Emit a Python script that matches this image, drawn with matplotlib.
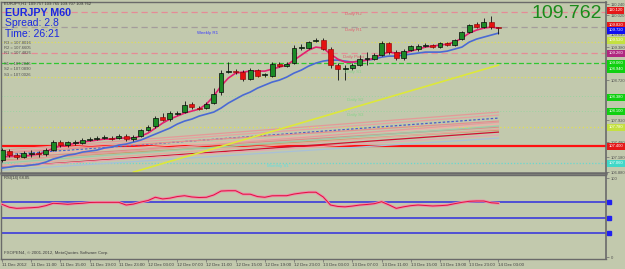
import matplotlib.pyplot as plt
import matplotlib.transforms as mtransforms
import numpy as np

plt.rcParams['font.family'] = ['Liberation Sans', 'DejaVu Sans']

# ---- data (EURJPY, H1) ----
opens = [107.12, 107.30, 107.22, 107.18, 107.24, 107.26, 107.24, 107.32, 107.48, 107.42,
         107.47, 107.46, 107.52, 107.54, 107.56, 107.57, 107.56, 107.60, 107.54, 107.60,
         107.72, 107.80, 107.98, 107.94, 108.05, 108.08, 108.24, 108.16, 108.16, 108.26,
         108.48, 108.88, 108.90, 108.88, 108.74, 108.92, 108.82, 108.80, 109.04, 109.00,
         109.06, 109.36, 109.36, 109.50, 109.52, 109.34, 109.02, 108.95, 108.96, 109.02,
         109.14, 109.14, 109.22, 109.46, 109.28, 109.16, 109.32, 109.34, 109.40, 109.42,
         109.38, 109.46, 109.42, 109.54, 109.68, 109.84, 109.78, 109.88, 109.78]
highs = [107.36, 107.34, 107.26, 107.30, 107.32, 107.30, 107.36, 107.52, 107.52, 107.50,
         107.52, 107.56, 107.58, 107.60, 107.62, 107.60, 107.64, 107.64, 107.62, 107.74,
         107.82, 108.00, 108.06, 108.10, 108.10, 108.30, 108.28, 108.20, 108.28, 108.56,
         108.92, 109.08, 108.94, 108.92, 108.96, 108.94, 108.86, 109.08, 109.08, 109.08,
         109.42, 109.44, 109.50, 109.56, 109.56, 109.38, 109.06, 109.02, 109.06, 109.22,
         109.28, 109.26, 109.50, 109.48, 109.32, 109.34, 109.42, 109.44, 109.46, 109.44,
         109.48, 109.48, 109.54, 109.70, 109.84, 109.88, 109.96, 110.00, 109.78]
lows = [107.08, 107.18, 107.14, 107.16, 107.18, 107.18, 107.20, 107.30, 107.38, 107.38,
        107.42, 107.44, 107.50, 107.52, 107.54, 107.52, 107.54, 107.50, 107.50, 107.58,
        107.70, 107.76, 107.90, 107.90, 108.02, 108.06, 108.14, 108.12, 108.14, 108.24,
        108.42, 108.86, 108.84, 108.70, 108.72, 108.78, 108.78, 108.78, 108.98, 108.98,
        109.04, 109.32, 109.34, 109.48, 109.32, 108.96, 108.72, 108.72, 108.92, 109.00,
        109.02, 109.12, 109.20, 109.24, 109.12, 109.12, 109.30, 109.30, 109.38, 109.36,
        109.36, 109.40, 109.40, 109.52, 109.66, 109.76, 109.76, 109.74, 109.64]
closes = [107.32, 107.22, 107.18, 107.26, 107.26, 107.24, 107.32, 107.48, 107.42, 107.48,
          107.48, 107.52, 107.54, 107.56, 107.58, 107.55, 107.60, 107.54, 107.58, 107.72,
          107.78, 107.96, 107.92, 108.06, 108.06, 108.22, 108.18, 108.14, 108.24, 108.44,
          108.86, 108.90, 108.89, 108.74, 108.92, 108.80, 108.84, 109.04, 109.00, 109.04,
          109.36, 109.38, 109.48, 109.52, 109.34, 109.02, 108.94, 108.96, 109.02, 109.14,
          109.16, 109.22, 109.46, 109.28, 109.16, 109.30, 109.40, 109.40, 109.42, 109.38,
          109.46, 109.42, 109.52, 109.68, 109.82, 109.78, 109.88, 109.78, 109.762]

ma_fast = [107.18, 107.20, 107.20, 107.20, 107.22, 107.24, 107.28, 107.36, 107.40, 107.42,
           107.46, 107.48, 107.50, 107.52, 107.54, 107.54, 107.56, 107.56, 107.56, 107.60,
           107.66, 107.76, 107.86, 107.94, 108.00, 108.06, 108.10, 108.14, 108.24, 108.40,
           108.60, 108.76, 108.86, 108.88, 108.90, 108.90, 108.90, 108.94, 108.98, 109.02,
           109.12, 109.22, 109.32, 109.38, 109.36, 109.24, 109.14, 109.08, 109.08, 109.10,
           109.12, 109.16, 109.24, 109.28, 109.26, 109.26, 109.30, 109.34, 109.38, 109.40,
           109.42, 109.44, 109.48, 109.56, 109.66, 109.72, 109.76, 109.78, 109.76]
ma_slow = [106.96, 106.98, 107.00, 107.00, 107.02, 107.04, 107.08, 107.14, 107.18, 107.22,
           107.24, 107.28, 107.30, 107.32, 107.36, 107.38, 107.42, 107.44, 107.48, 107.52,
           107.58, 107.64, 107.70, 107.76, 107.84, 107.90, 107.94, 108.00, 108.04, 108.08,
           108.16, 108.26, 108.34, 108.42, 108.48, 108.56, 108.62, 108.68, 108.72, 108.78,
           108.86, 108.92, 109.00, 109.06, 109.10, 109.12, 109.12, 109.10, 109.08, 109.10,
           109.12, 109.14, 109.18, 109.20, 109.20, 109.22, 109.24, 109.26, 109.28, 109.28,
           109.28, 109.30, 109.34, 109.38, 109.48, 109.54, 109.58, 109.62, 109.66]

rsi = [66.7, 63.0, 61.6, 62.0, 62.4, 63.0, 65.0, 68.0, 67.5, 66.7,
       67.5, 68.0, 69.0, 69.2, 69.2, 69.2, 69.2, 65.8, 67.0, 69.5,
       71.5, 75.6, 73.5, 74.5, 76.5, 77.6, 76.0, 75.3, 75.6, 78.5,
       83.5, 83.9, 83.9, 79.5, 79.5, 76.5, 75.6, 77.5, 77.6, 77.6,
       79.7, 81.0, 82.0, 82.0, 76.0, 65.8, 64.0, 63.5, 64.5, 65.8,
       66.5, 67.5, 70.0, 66.0, 61.6, 63.5, 65.0, 65.8, 65.2, 64.6,
       65.0, 65.6, 67.5, 69.2, 70.5, 70.9, 70.9, 68.7, 68.0]
rsi_levels = [70, 50, 30]

# trend-line fan (price at first bar, price at last bar)
fan_start = [107.32, 107.28, 107.22, 107.26, 107.20, 107.16, 107.12, 106.98, 107.06, 106.98, 106.92, 107.10, 107.02]
fan_end = [108.08, 108.02, 107.96, 107.90, 107.84, 107.78, 107.72, 107.68, 107.80, 107.62, 107.56, 107.88, 107.74]
fan_colors = ['#e49a98', '#e8a0a0', '#4a5cc8', '#e3908e', '#eeb0a8', '#dc8c88',
              '#c8a070', '#d01030', '#9cc8a8', '#e8a4b0', '#a8c0d8', '#e29c9c', '#e6a8a0']
yellow_bars = [18, 68]
yellow_prices = [106.88, 109.02]

# horizontal pivot levels
level_prices = [110.08, 109.78, 109.48, 109.26, 109.06, 108.78, 108.40, 108.10, 107.78, 107.40, 107.06]
level_colors = ['#e68a96', '#a49c9c', '#e2e050', '#e68a96', '#30c830', '#e2e050',
                '#9ad4a0', '#9ad4a0', '#e2e050', '#ff1010', '#68d8d0']
level_styles = [(0, (5, 3)), (0, (5, 3)), (0, (1, 2)), (0, (5, 3)), (0, (4, 2)), (0, (1, 2)),
                (0, (1, 2)), (0, (1, 2)), (0, (1, 2)), '-', (0, (1, 1.5))]
level_widths = [0.9, 0.9, 0.8, 0.9, 0.9, 0.8, 0.7, 0.7, 0.9, 1.6, 0.9]

label_names = ['Daily R2', 'Daily R1', 'Weekly R1', 'Daily Pivot', 'Daily S1', 'Daily S2', 'Daily S3', 'Monthly S1']
label_bars = [47.0, 47.0, 26.7, 46.7, 47.0, 47.3, 47.3, 36.3]
label_prices = [110.04, 109.72, 109.66, 109.18, 108.88, 108.32, 108.02, 107.00]
label_colors = ['#e06070', '#e06070', '#3a3aff', '#e06070', '#86d48a', '#86d48a', '#86d48a', '#60e0e0']

box_prices = [110.12, 109.82, 109.72, 109.52, 109.26, 109.06, 108.94, 108.38, 108.10, 107.78, 107.40, 107.06]
box_colors = ['#e41818', '#e41818', '#1010f0', '#c4e040', '#b02880', '#10d010', '#10d010',
              '#10d010', '#10d010', '#c4e040', '#e41818', '#40d8c8']
price_ticks = [110.24, 110.02, 109.64, 109.38, 108.72, 107.92, 107.48, 107.18, 106.88]

time_labels = ['11 Dec 2012', '11 Dec 11:00', '11 Dec 15:00', '11 Dec 19:00', '11 Dec 23:00',
               '12 Dec 03:00', '12 Dec 07:00', '12 Dec 11:00', '12 Dec 15:00', '12 Dec 19:00',
               '12 Dec 23:00', '13 Dec 03:00', '13 Dec 07:00', '13 Dec 11:00', '13 Dec 15:00',
               '13 Dec 19:00', '13 Dec 23:00', '14 Dec 03:00']

W, H = 625, 269
BG = '#c2c9ad'
FRAME = '#6a6a6a'


def fx(x):
    return x / W


def fy(y):
    return 1 - y / H


fig = plt.figure(figsize=(6.25, 2.69), dpi=100, facecolor=BG)
ax = fig.add_axes([fx(1), fy(173), fx(605), 171 / H], facecolor=BG)
ax2 = fig.add_axes([fx(1), fy(259), fx(605), 84 / H], facecolor=BG)

bars = np.arange(len(closes))
xlim = (-0.14, 82.74)

# levels + trend lines first, candles on top
for p, c, ls, lw in zip(level_prices, level_colors, level_styles, level_widths):
    ax.axhline(p, color=c, ls=ls, lw=lw, zorder=1)
for s, e, c in zip(fan_start, fan_end, fan_colors):
    ls = (0, (2, 1.5)) if c == '#4a5cc8' else '-'
    ax.plot([bars[0], bars[-1]], [s, e], color=c, lw=0.9, ls=ls, zorder=2)
ax.plot(yellow_bars, yellow_prices, color='#dde83a', lw=1.2, zorder=2)

ax.plot(bars, ma_slow, color='#4a6ad4', lw=1.2, zorder=3)
ax.plot(bars, ma_fast, color='#e4206e', lw=1.2, zorder=3)

o = np.array(opens)
c = np.array(closes)
up = c >= o
ax.vlines(bars, lows, highs, color='#101010', lw=0.6, zorder=4)
body = np.maximum(np.abs(c - o), 0.012)
ax.bar(bars[up], body[up], bottom=np.minimum(o, c)[up], width=0.68,
       color='#1c8a26', edgecolor='#0a0a0a', lw=0.5, zorder=5)
ax.bar(bars[~up], body[~up], bottom=np.minimum(o, c)[~up], width=0.68,
       color='#e41010', edgecolor='#8a0000', lw=0.4, zorder=5)

for name, b, p, col in zip(label_names, label_bars, label_prices, label_colors):
    ax.text(b, p, name, fontsize=3.2, color=col, va='center', ha='left', zorder=6)

ax.set_xlim(*xlim)
ax.set_ylim(106.862, 110.282)
ax.set_xticks([])
ax.yaxis.tick_right()
ax.set_yticks(price_ticks, [f'{t:.3f}' for t in price_ticks], fontsize=3, color='#505050')
ax.tick_params(axis='y', length=2, width=0.5, color=FRAME, pad=1.5)

trans = mtransforms.blended_transform_factory(ax.transAxes, ax.transData)
for p, col in zip(box_prices, box_colors):
    ax.text(1.004, p, f'{p:.3f}', transform=trans, fontsize=3, color='white',
            va='center', ha='left', clip_on=False, zorder=10,
            bbox=dict(boxstyle='square,pad=0.35', fc=col, ec='none'))

# RSI panel
ax2.plot(bars, rsi, color='#f08aa8', lw=2.0, zorder=3)
ax2.plot(bars, rsi, color='#e01040', lw=0.7, zorder=4)
for lv in rsi_levels:
    ax2.axhline(lv, color='#4646d8', lw=1.3, zorder=2)
ax2.plot([83.1] * len(rsi_levels), rsi_levels, 's', color='#2020f0', ms=3.2, clip_on=False)
ax2.set_xlim(*xlim)
ax2.set_ylim(-2.5, 103.8)
ax2.yaxis.tick_right()
ax2.set_yticks([100, 0], ['100', '0'], fontsize=3, color='#505050')
ax2.tick_params(axis='y', length=2, width=0.5, color=FRAME, pad=1.5)
ax2.set_xticks(bars[::4], time_labels, fontsize=3.2, color='#404040')
ax2.tick_params(axis='x', length=2, width=0.5, color=FRAME, pad=1)
for lab in ax2.get_xticklabels():
    lab.set_ha('left')

for a in (ax, ax2):
    for sp in a.spines.values():
        sp.set_color(FRAME)
        sp.set_linewidth(1.0)
    a.spines['right'].set_linewidth(1.2)
ax.spines['bottom'].set_linewidth(1.8)

# header / info texts
fig.text(fx(4), fy(4), 'EURJPY,H1  109.757 109.765 109.707 109.762', fontsize=3, color='#303030', va='center')
fig.text(fx(5), fy(13), 'EURJPY M60', fontsize=7.7, fontweight='bold', color='#1a28e0', va='center')
fig.text(fx(5), fy(23), 'Spread: 2.8', fontsize=7.5, color='#1a28e0', va='center')
fig.text(fx(5), fy(34), 'Time: 26:21', fontsize=7.5, color='#1a28e0', va='center')
side_texts = ['R3 = 107.8016', 'R2 = 107.6605', 'R1 = 107.4826', 'S1 = 107.2046', 'S2 = 107.0890', 'S3 = 107.0026']
for t, yy in zip(side_texts, [43, 48, 53, 64, 69, 75]):
    fig.text(fx(4), fy(yy), t, fontsize=3, color='#505050', va='center')
fig.text(fx(602), fy(13), '109.762', fontsize=14, color='#1a8a1a', ha='right', va='center')
fig.text(fx(4), fy(178), 'RSI(14) 68.05', fontsize=3, color='#303030', va='center')
fig.text(fx(4), fy(253), 'FXOPEN4, \u00a9 2001-2012, MetaQuotes Software Corp.', fontsize=3.2, color='#404040', va='center')

fig.savefig('out.png', dpi=100, facecolor=BG)
